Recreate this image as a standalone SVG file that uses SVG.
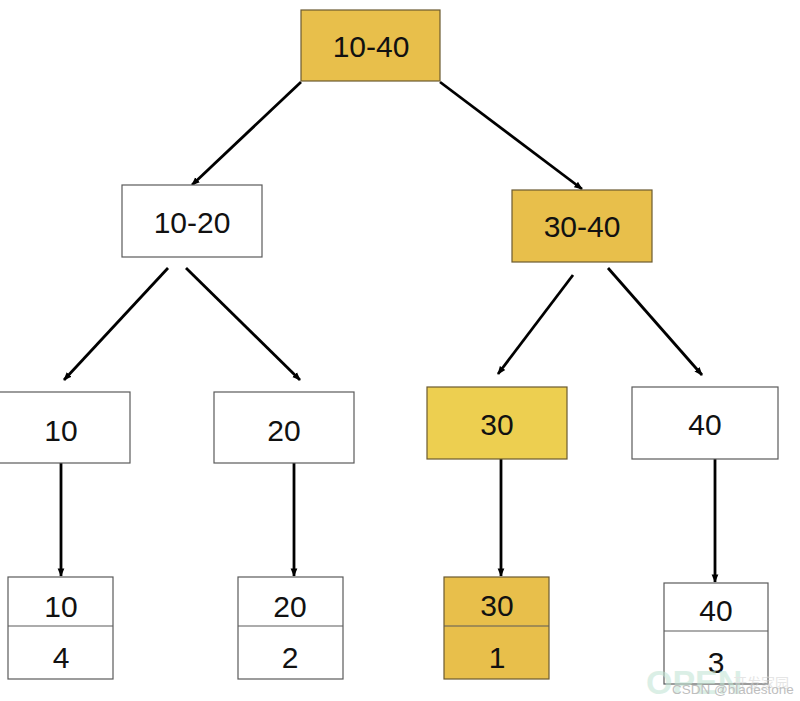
<svg xmlns="http://www.w3.org/2000/svg" width="800" height="701" viewBox="0 0 800 701">
<defs>
<style>
.box{stroke:#5a5a5a;stroke-width:1.2;fill:#ffffff}
.gold{fill:#E8BF4B;stroke:#6b5a30}
.gold2{fill:#EDCF50;stroke:#6b5a30}
.t{font-family:"Liberation Sans",Arial,sans-serif;font-size:30px;fill:#111;text-anchor:middle}
.edge{stroke:#000;stroke-width:2.8;fill:none;marker-end:url(#ah)}
.wm{font-family:"Liberation Sans",Arial,sans-serif}
</style>
<marker id="ah" viewBox="0 0 10 10" refX="9" refY="5" markerWidth="3" markerHeight="3" orient="auto" markerUnits="strokeWidth">
<path d="M0,1 L10,5 L0,9 Z" fill="#000"/>
</marker>
</defs>
<rect width="800" height="701" fill="#ffffff"/>
<g id="connectors">
<line class="edge" x1="301" y1="82" x2="192" y2="185"/>
<line class="edge" x1="440" y1="82" x2="582" y2="189"/>
<line class="edge" x1="168" y1="268" x2="64" y2="380"/>
<line class="edge" x1="186" y1="268" x2="300" y2="380"/>
<line class="edge" x1="573" y1="275" x2="498" y2="374"/>
<line class="edge" x1="608" y1="268" x2="702" y2="375"/>
<line class="edge" x1="61" y1="463" x2="61" y2="576"/>
<line class="edge" x1="294" y1="463" x2="294" y2="576"/>
<line class="edge" x1="501" y1="459" x2="501" y2="576"/>
<line class="edge" x1="715" y1="459" x2="715" y2="582"/>
</g>
<g id="n-10-40">
<rect class="box gold" x="301" y="10" width="139" height="71"/>
<text class="t" x="371" y="57">10-40</text>
</g>
<g id="n-10-20">
<rect class="box" x="122" y="185" width="140" height="72"/>
<text class="t" x="192" y="233">10-20</text>
</g>
<g id="n-30-40">
<rect class="box gold" x="512" y="190" width="140" height="72"/>
<text class="t" x="582" y="237">30-40</text>
</g>
<g id="n-10">
<rect class="box" x="-1" y="392" width="131" height="71"/>
<text class="t" x="61" y="441">10</text>
</g>
<g id="n-20">
<rect class="box" x="214" y="392" width="140" height="71"/>
<text class="t" x="284" y="441">20</text>
</g>
<g id="n-30">
<rect class="box gold2" x="427" y="387" width="140" height="72"/>
<text class="t" x="497" y="435">30</text>
</g>
<g id="n-40">
<rect class="box" x="632" y="387" width="146" height="72"/>
<text class="t" x="705" y="435">40</text>
</g>
<g id="leaf-10">
<rect class="box" x="8" y="577" width="105" height="102"/>
<line x1="8" y1="626" x2="113" y2="626" stroke="#5a5a5a" stroke-width="1.2"/>
<text class="t" x="61" y="617">10</text>
<text class="t" x="61" y="668">4</text>
</g>
<g id="leaf-20">
<rect class="box" x="238" y="577" width="105" height="102"/>
<line x1="238" y1="626" x2="343" y2="626" stroke="#5a5a5a" stroke-width="1.2"/>
<text class="t" x="290" y="617">20</text>
<text class="t" x="290" y="668">2</text>
</g>
<g id="leaf-30">
<rect class="box gold" x="444" y="577" width="105" height="102"/>
<line x1="444" y1="626" x2="549" y2="626" stroke="#5a5a5a" stroke-width="1.2"/>
<text class="t" x="497" y="616">30</text>
<text class="t" x="497" y="668">1</text>
</g>
<g id="leaf-40">
<rect class="box" x="664" y="583" width="104" height="101"/>
<line x1="664" y1="631" x2="768" y2="631" stroke="#5a5a5a" stroke-width="1.2"/>
<text class="t" x="716" y="621">40</text>
<text class="t" x="716" y="673">3</text>
</g>
<g id="watermark" opacity="0.55">
<text class="wm" x="646" y="694" font-size="34" font-weight="bold" fill="#bfe3d2">OPEN</text>
<text x="733" y="688" font-family="'Noto Sans CJK SC',sans-serif" font-size="14" fill="#d0d0d0">开发家园</text>
<text class="wm" x="672" y="694" font-size="13.5" fill="#8a8a8a">CSDN @bladestone</text>
</g>
</svg>
